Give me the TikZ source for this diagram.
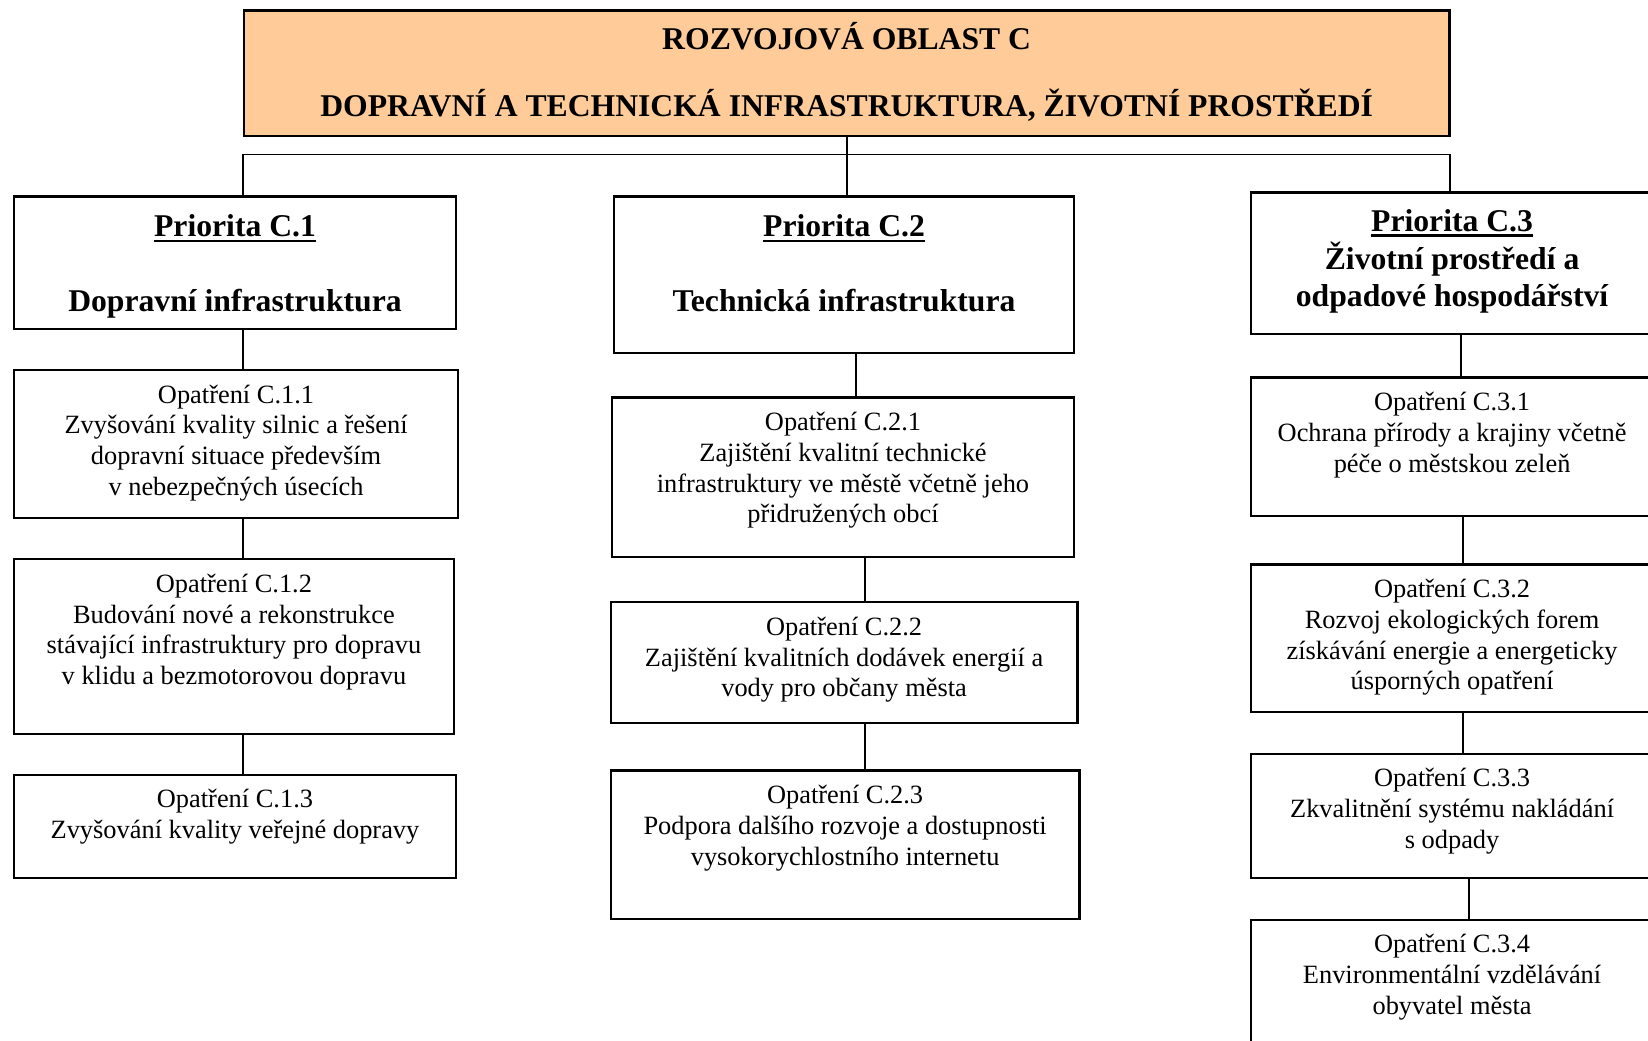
\documentclass[tikz,border=0pt]{standalone}
\usepackage{fontspec}
\setmainfont{Liberation Serif}
\newlength{\vpx}\setlength{\vpx}{0.021cm}
\newcommand{\boxtxt}[4]{\begin{minipage}[t][#2\vpx][t]{#1\vpx}\centering\vspace*{#3\vpx}#4\end{minipage}}
\newcommand{\podtrh}[1]{\leavevmode\vtop{\hbox{#1}\kern1.5pt\hrule height1.3pt}}
\definecolor{oblast}{HTML}{FFCC99}
\tikzset{
  opbox/.style={draw, line width=1.3pt, inner sep=0pt, anchor=north west, font=\fontsize{15}{17.5}\selectfont},
  pribox/.style={opbox, font=\fontsize{18}{21.5}\selectfont\bfseries},
  spoj/.style={line width=1.1pt}
}

\begin{document}
\begin{tikzpicture}[x=0.021cm, y=-0.021cm]
	\clip (0,0) rectangle (1568,990);
	% rozvojova oblast
	\node[pribox, fill=oblast] (top) at (231,9) {\boxtxt{1147}{119}{11}{ROZVOJOVÁ OBLAST C\\[16.6pt]DOPRAVNÍ A TECHNICKÁ INFRASTRUKTURA, ŽIVOTNÍ PROSTŘEDÍ}};
	% priority
	\node[pribox] (c1) at (12,186) {\boxtxt{421}{126}{17}{\podtrh{Priorita C.1}\\[21.4pt]Dopravní infrastruktura}};
	\node[pribox] (c2) at (583,186) {\boxtxt{438}{149}{17}{\podtrh{Priorita C.2}\\[21.4pt]Technická infrastruktura}};
	\node[pribox] (c3) at (1189,182) {\boxtxt{383}{135}{16}{\podtrh{Priorita C.3}\\Životní prostředí a\\odpadové hospodářství}};
	% opatreni C.1
	\node[opbox] (c11) at (12,351) {\boxtxt{423}{141}{14}{Opatření C.1.1\\Zvyšování kvality silnic a řešení\\dopravní situace především\\v nebezpečných úsecích}};
	\node[opbox] (c12) at (12,531) {\boxtxt{419}{166}{14}{Opatření C.1.2\\Budování nové a rekonstrukce\\stávající infrastruktury pro dopravu\\v klidu a bezmotorovou dopravu}};
	\node[opbox] (c13) at (12,736) {\boxtxt{421}{98}{14}{Opatření C.1.3\\Zvyšování kvality veřejné dopravy}};
	% opatreni C.2
	\node[opbox] (c21) at (581,377) {\boxtxt{440}{152}{14}{Opatření C.2.1\\Zajištění kvalitní technické\\infrastruktury ve městě včetně jeho\\přidružených obcí}};
	\node[opbox] (c22) at (580,572) {\boxtxt{444}{115}{14}{Opatření C.2.2\\Zajištění kvalitních dodávek energií a\\vody pro občany města}};
	\node[opbox] (c23) at (580,732) {\boxtxt{446}{141}{14}{Opatření C.2.3\\Podpora dalšího rozvoje a dostupnosti\\vysokorychlostního internetu}};
	% opatreni C.3
	\node[opbox] (c31) at (1189,358) {\boxtxt{383}{132}{14}{Opatření C.3.1\\Ochrana přírody a krajiny včetně\\péče o městskou zeleň}};
	\node[opbox] (c32) at (1189,536) {\boxtxt{383}{140}{14}{Opatření C.3.2\\Rozvoj ekologických forem\\získávání energie a energeticky\\úsporných opatření}};
	\node[opbox] (c33) at (1189,716) {\boxtxt{383}{118}{14}{Opatření C.3.3\\Zkvalitnění systému nakládání\\s odpady}};
	\node[opbox] (c34) at (1189,874) {\boxtxt{383}{140}{14}{Opatření C.3.4\\Environmentální vzdělávání\\obyvatel města}};
	% spojnice
	\coordinate (s1) at (231,147);
	\coordinate (s3) at (1380,147);
	\coordinate (p21) at (814,0);
	\coordinate (p22) at (823,0);
	\coordinate (p31) at (1390,0);
	\coordinate (p32) at (1392,0);
	\coordinate (p34) at (1398,0);
	\draw[spoj] (top.south) -- (top.south |- c2.north);
	\draw[spoj] (c1.north -| s1) -- (s1) -- (s3) -- (c3.north -| s3);
	\draw[spoj] (c1.south -| s1) -- (c11.north -| s1);
	\draw[spoj] (c11.south -| s1) -- (c12.north -| s1);
	\draw[spoj] (c12.south -| s1) -- (c13.north -| s1);
	\draw[spoj] (c2.south -| p21) -- (c21.north -| p21);
	\draw[spoj] (c21.south -| p22) -- (c22.north -| p22);
	\draw[spoj] (c22.south -| p22) -- (c23.north -| p22);
	\draw[spoj] (c3.south -| p31) -- (c31.north -| p31);
	\draw[spoj] (c31.south -| p32) -- (c32.north -| p32);
	\draw[spoj] (c32.south -| p32) -- (c33.north -| p32);
	\draw[spoj] (c33.south -| p34) -- (c34.north -| p34);
\end{tikzpicture}
\end{document}
